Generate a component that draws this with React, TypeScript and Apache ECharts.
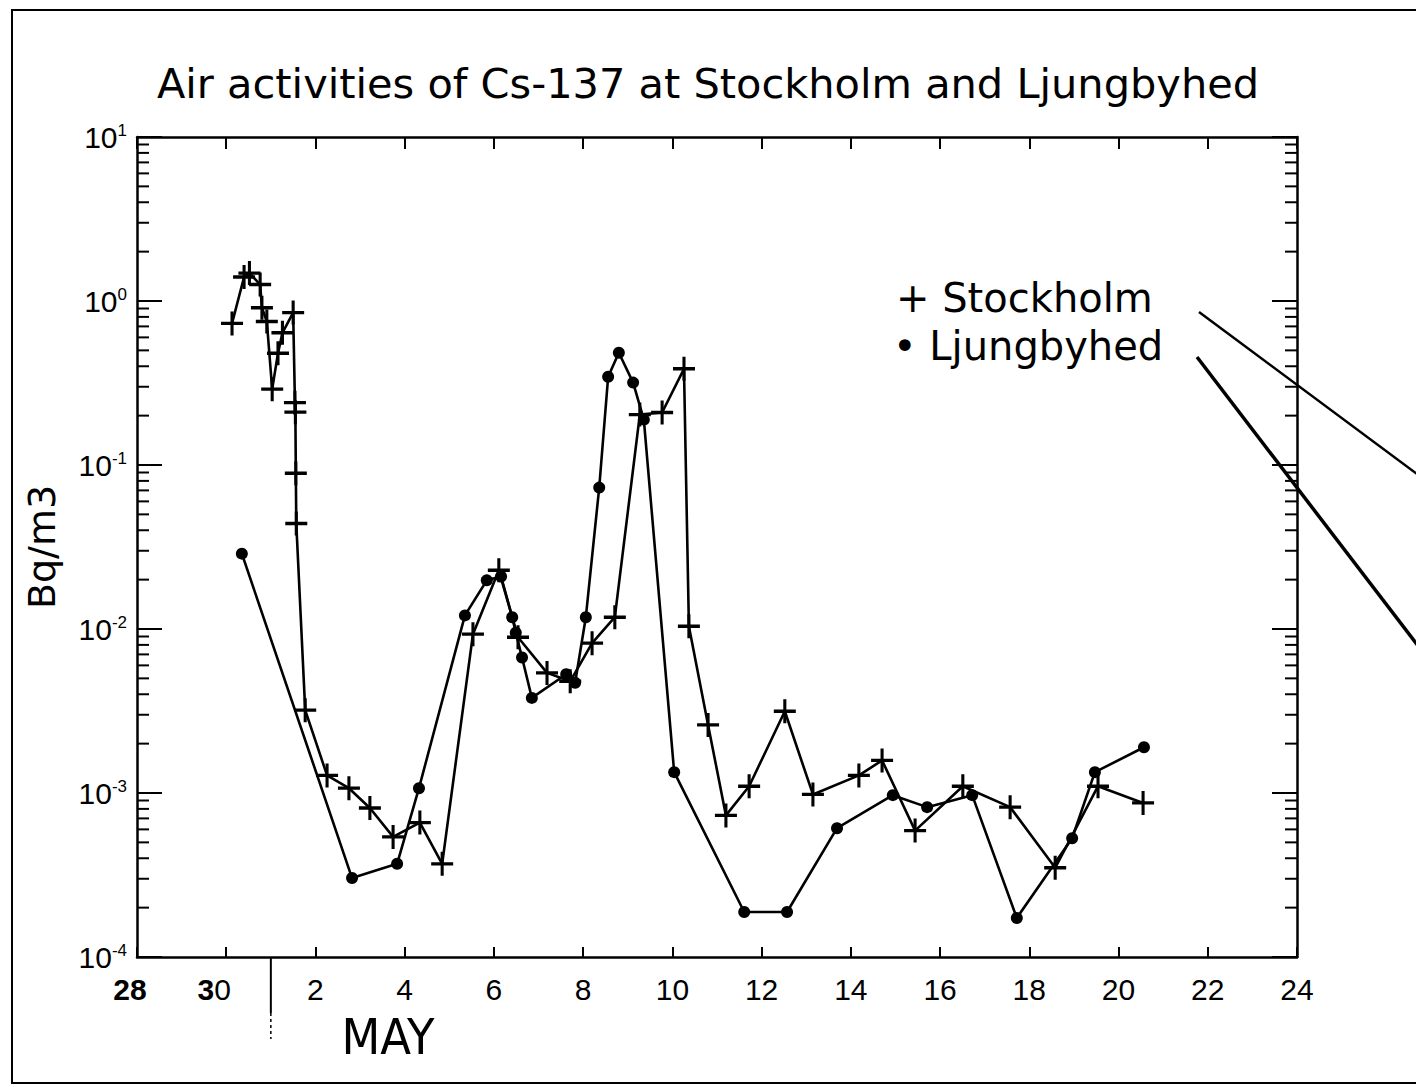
import React, { useEffect, useRef } from "react";
import * as echarts from "echarts";

// x = day of May (April 30 = 0, April 28 = -2)
const stockholmDays = [
  0.13, 0.4, 0.52, 0.76, 0.8, 0.91, 1.03, 1.16, 1.26, 1.5, 1.54, 1.55, 1.56, 1.57, 1.77,
  2.26, 2.75, 3.22, 3.74, 4.34, 4.84, 5.53, 6.11, 6.54, 7.19, 7.71, 8.2, 8.71, 9.27, 9.77,
  10.26, 10.37, 10.8, 11.2, 11.72, 12.52, 13.15, 14.18, 14.7, 15.44, 16.51, 17.57, 18.58,
  19.54, 20.55,
];
const stockholmValues = [
  0.73, 1.4, 1.48, 1.26, 0.91, 0.75, 0.29, 0.48, 0.64, 0.85, 0.24, 0.21, 0.089, 0.044, 0.0032,
  0.00128, 0.00107, 0.00081, 0.00054, 0.00066, 0.00037, 0.0093, 0.0228, 0.0089, 0.0054, 0.0048,
  0.0082, 0.0118, 0.203, 0.209, 0.386, 0.0104, 0.0026, 0.00073, 0.0011, 0.00315, 0.00098,
  0.00128, 0.00158, 0.00059, 0.0011, 0.00082, 0.00035, 0.0011, 0.00087,
];
const ljungbyhedDays = [
  0.35, 2.82, 3.83, 4.32, 5.35, 5.84, 6.16, 6.41, 6.49, 6.63, 6.85, 7.62, 7.82, 8.06, 8.36,
  8.56, 8.8, 9.12, 9.36, 10.04, 11.61, 12.57, 13.69, 14.94, 15.71, 16.72, 17.72, 18.96, 19.47,
  20.57,
];
const ljungbyhedValues = [
  0.0288, 0.000303, 0.00037, 0.00107, 0.0121, 0.0198, 0.0209, 0.0118, 0.0095, 0.0067, 0.0038,
  0.0053, 0.0047, 0.0118, 0.0728, 0.345, 0.484, 0.318, 0.189, 0.00134, 0.000188, 0.000188,
  0.00061, 0.00097, 0.00082, 0.00097, 0.000173, 0.00053, 0.00134, 0.0019,
];

const xTickLabels = ["28", "30", "2", "4", "6", "8", "10", "12", "14", "16", "18", "20", "22", "24"];
const minorMultipliers = [2, 3, 4, 5, 6, 7, 8, 9];
const minorDecades = [-4, -3, -2, -1, 0];
const monthStartDay = 1;

const TITLE = "Air activities of Cs-137 at Stockholm and Ljungbyhed";
const CROSS = "path://M0,4.3H10V5.7H0Z M4.3,0H5.7V10H4.3Z";
const X_MIN = -2;
const X_MAX = 24;

export default function App() {
  const ref = useRef<HTMLDivElement>(null);

  useEffect(() => {
    document.body.style.margin = "0";
    if (!ref.current) return;
    const chart = echarts.init(ref.current, undefined, { renderer: "svg" });

    const minorTicks: number[][] = [];
    minorDecades.forEach((d) =>
      minorMultipliers.forEach((m) => minorTicks.push([X_MIN, m * Math.pow(10, d)]))
    );

    const axisLineStyle = { color: "#000", width: 2.5 };
    const tickStyle = { color: "#000", width: 2 };

    const xFormatter = (v: number) => {
      const idx = Math.round((v - X_MIN) / 2);
      const t = xTickLabels[idx] ?? "";
      if (idx === 0) return "{bb|" + t + "}";
      if (idx === 1) return "{b3|" + t.charAt(0) + "}{n|" + t.slice(1) + "}";
      return t;
    };

    const yFormatter = (v: number) => {
      const e = Math.round(Math.log10(v));
      return "{b|10}{s|" + e + "}";
    };

    const legendStyle = {
      fontSize: 40,
      fontFamily: "DejaVu Sans",
      fill: "#000",
      verticalAlign: "middle",
    };

    const option: any = {
      animation: false,
      backgroundColor: "#fff",
      textStyle: { fontFamily: "Liberation Sans", color: "#000" },
      title: {
        text: TITLE,
        left: "center",
        top: 57,
        textStyle: { fontFamily: "DejaVu Sans", fontSize: 41.5, fontWeight: "normal", color: "#000" },
      },
      grid: { left: 137, right: 119, top: 137, bottom: 130 },
      xAxis: [
        {
          type: "value",
          min: X_MIN,
          max: X_MAX,
          interval: 2,
          position: "bottom",
          axisLine: { show: true, onZero: false, lineStyle: axisLineStyle },
          axisTick: { show: true, inside: true, length: 10, lineStyle: tickStyle },
          axisLabel: {
            margin: 17,
            fontSize: 30,
            color: "#000",
            formatter: xFormatter,
            rich: {
              bb: { fontSize: 30, fontWeight: "bold", fontFamily: "Liberation Sans", padding: [0, 14, 0, 0] },
              b3: { fontSize: 30, fontWeight: "bold", fontFamily: "Liberation Sans" },
              n: { fontSize: 30, fontFamily: "Liberation Sans", padding: [0, 24, 0, 0] },
            },
          },
          splitLine: { show: false },
        },
        {
          type: "value",
          min: X_MIN,
          max: X_MAX,
          interval: 2,
          position: "top",
          axisLine: { show: true, onZero: false, lineStyle: axisLineStyle },
          axisTick: { show: true, inside: true, length: 12, lineStyle: tickStyle },
          axisLabel: { show: false },
          splitLine: { show: false },
        },
      ],
      yAxis: [
        {
          type: "log",
          logBase: 10,
          min: 1e-4,
          max: 10,
          position: "left",
          name: "Bq/m3",
          nameLocation: "middle",
          nameGap: 76,
          nameRotate: 90,
          nameTextStyle: { fontFamily: "DejaVu Sans", fontSize: 38, color: "#000" },
          axisLine: { show: true, onZero: false, lineStyle: axisLineStyle },
          axisTick: { show: true, inside: true, length: 25, lineStyle: tickStyle },
          axisLabel: {
            margin: 10,
            color: "#000",
            formatter: yFormatter,
            rich: {
              b: { fontSize: 30, lineHeight: 30, fontFamily: "Liberation Sans" },
              s: { fontSize: 17, lineHeight: 17, verticalAlign: "top", fontFamily: "Liberation Sans" },
            },
          },
          splitLine: { show: false },
        },
        {
          type: "log",
          logBase: 10,
          min: 1e-4,
          max: 10,
          position: "right",
          axisLine: { show: true, onZero: false, lineStyle: axisLineStyle },
          axisTick: { show: true, inside: true, length: 25, lineStyle: tickStyle },
          axisLabel: { show: false },
          splitLine: { show: false },
        },
      ],
      graphic: [
        {
          type: "rect",
          shape: { x: 12, y: 10, width: 1430, height: 1073 },
          style: { fill: "none", stroke: "#000", lineWidth: 2 },
        },
        {
          type: "text",
          x: 896,
          y: 298,
          style: { ...legendStyle, text: "+ Stockholm" },
        },
        {
          type: "text",
          x: 893,
          y: 346,
          style: { ...legendStyle, text: "\u2022 Ljungbyhed" },
        },
        {
          type: "line",
          shape: { x1: 1199, y1: 312, x2: 1425, y2: 480 },
          style: { stroke: "#000", lineWidth: 2.5 },
        },
        {
          type: "line",
          shape: { x1: 1197, y1: 357, x2: 1425, y2: 655 },
          style: { stroke: "#000", lineWidth: 3.5 },
        },
        {
          type: "text",
          x: 388,
          y: 1037,
          style: {
            text: "MAY",
            fontSize: 50,
            fontFamily: '"DejaVu Sans Condensed", "DejaVu Sans"',
            fill: "#000",
            align: "center",
            verticalAlign: "middle",
          },
        },
      ],
      series: [
        {
          name: "Stockholm",
          type: "line",
          data: stockholmDays.map((d, i) => [d, stockholmValues[i]]),
          symbol: CROSS,
          symbolSize: [22, 24],
          showAllSymbol: true,
          lineStyle: { color: "#000", width: 2.6 },
          itemStyle: { color: "#000" },
          z: 3,
        },
        {
          name: "Ljungbyhed",
          type: "line",
          data: ljungbyhedDays.map((d, i) => [d, ljungbyhedValues[i]]),
          symbol: "circle",
          symbolSize: 12,
          showAllSymbol: true,
          lineStyle: { color: "#000", width: 2.6 },
          itemStyle: { color: "#000" },
          z: 3,
        },
        {
          name: "minorTicks",
          type: "custom",
          silent: true,
          data: minorTicks,
          encode: { x: 0, y: 1 },
          renderItem: (params: any, api: any) => {
            const v = api.value(1);
            const pL = api.coord([X_MIN, v]);
            const pR = api.coord([X_MAX, v]);
            return {
              type: "group",
              children: [
                {
                  type: "line",
                  shape: { x1: pL[0], y1: pL[1], x2: pL[0] + 12, y2: pL[1] },
                  style: { stroke: "#000", lineWidth: 2 },
                },
                {
                  type: "line",
                  shape: { x1: pR[0] - 12, y1: pR[1], x2: pR[0], y2: pR[1] },
                  style: { stroke: "#000", lineWidth: 2 },
                },
              ],
            };
          },
        },
        {
          name: "monthStart",
          type: "custom",
          silent: true,
          clip: false,
          data: [[monthStartDay, 1e-4]],
          encode: { x: 0, y: 1 },
          renderItem: (params: any, api: any) => {
            const p = api.coord([api.value(0), api.value(1)]);
            return {
              type: "group",
              children: [
                {
                  type: "line",
                  shape: { x1: p[0], y1: p[1], x2: p[0], y2: p[1] + 56 },
                  style: { stroke: "#000", lineWidth: 2 },
                },
                {
                  type: "line",
                  shape: { x1: p[0], y1: p[1] + 56, x2: p[0], y2: p[1] + 82 },
                  style: { stroke: "#000", lineWidth: 1.5, lineDash: [3, 3] },
                },
              ],
            };
          },
        },
      ],
    };

    chart.setOption(option);
    return () => chart.dispose();
  }, []);

  return <div ref={ref} style={{ width: 1416, height: 1087 }} />;
}
